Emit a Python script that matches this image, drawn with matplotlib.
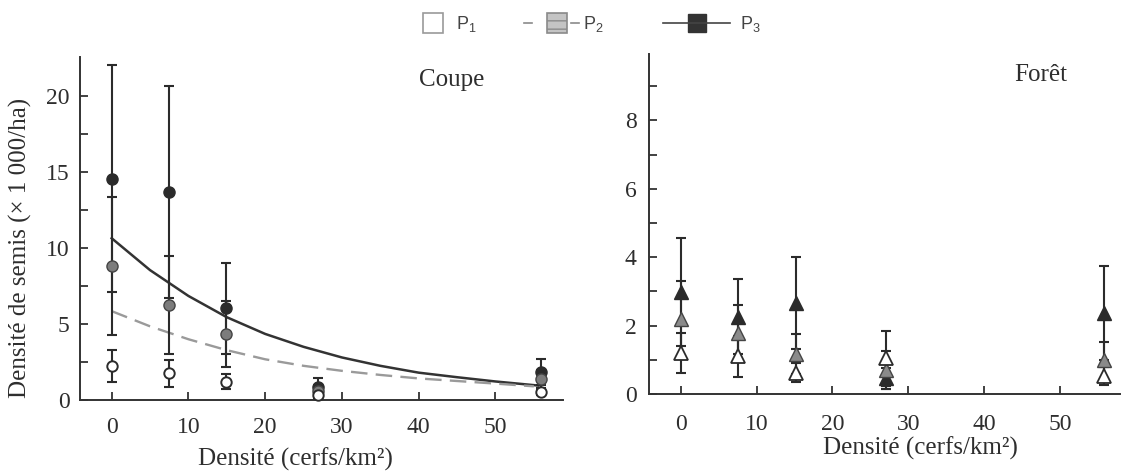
import matplotlib
matplotlib.use("Agg")
import matplotlib.pyplot as plt
from matplotlib.lines import Line2D
from matplotlib.patches import Rectangle

plt.rcParams["mathtext.fontset"] = "custom"
plt.rcParams["mathtext.rm"] = "Liberation Sans"
plt.rcParams["mathtext.it"] = "Liberation Sans:italic"
plt.rcParams["mathtext.bf"] = "Liberation Sans:bold"

# ---------------- data ----------------
# Coupe (left panel)
coupe_x = [0, 7.45, 14.9, 26.9, 55.9]
coupe_p1 = [2.24, 1.75, 1.2, 0.3, 0.55]
coupe_p1_err = [1.08, 0.9, 0.5, 0.2, 0.2]
coupe_p2 = [8.8, 6.25, 4.34, 0.6, 1.4]
coupe_p2_err = [4.55, 3.25, 2.15, 0.4, 0.6]
coupe_p3 = [14.58, 13.7, 6.03, 0.85, 1.85]
coupe_p3_err = [7.5, 7.0, 3.0, 0.6, 0.85]

# fitted curves
curve_x = [0, 5, 10, 15, 20, 25, 30, 35, 40, 45, 50, 55.6]
curve_p3 = [10.65, 8.55, 6.85, 5.45, 4.35, 3.5, 2.8, 2.25, 1.8, 1.5, 1.22, 0.95]
curve_p2 = [5.85, 4.85, 4.0, 3.28, 2.68, 2.25, 1.92, 1.65, 1.42, 1.25, 1.08, 0.9]

# Foret (right panel)
foret_x = [0, 7.55, 15.2, 27.0, 55.8]
foret_p1 = [1.19, 1.11, 0.62, 1.04, 0.53]
foret_p1_err = [0.58, 0.6, 0.28, 0.8, 0.27]
foret_p2 = [2.18, 1.77, 1.17, 0.7, 0.99]
foret_p2_err = [1.12, 0.83, 0.58, 0.56, 0.54]
foret_p3 = [2.99, 2.26, 2.67, 0.46, 2.36]
foret_p3_err = [1.58, 1.1, 1.34, 0.3, 1.38]

coupe_yticks = [0, 5, 10, 15, 20]
foret_yticks = [0, 2, 4, 6, 8]
xticks = [0, 10, 20, 30, 40, 50]

# ---------------- style ----------------
SERIF = ["Liberation Serif", "DejaVu Serif"]
SANS = ["Liberation Sans", "DejaVu Sans"]
DARK = "#2b2b2b"
MID = "#7c7c7c"
TXT = "#2e2e2e"
FS_TICK = 17
FS_LAB = 18

fig = plt.figure(figsize=(11.21, 4.73), dpi=100)
W, H = 1121, 473

def px_axes(l, r, t, b):
    return fig.add_axes([l / W, (H - b) / H, (r - l) / W, (b - t) / H])

axL = px_axes(79.5, 563, 56.7, 400)
axR = px_axes(649.3, 1120, 54.3, 394)

def style(ax, xlim, ylim, yticks, yminor, ypad, xpad):
    ax.set_xlim(*xlim)
    ax.set_ylim(*ylim)
    for s in ["top", "right"]:
        ax.spines[s].set_visible(False)
    for s in ["left", "bottom"]:
        ax.spines[s].set_linewidth(1.4)
        ax.spines[s].set_color("#333333")
    ax.set_xticks(xticks)
    ax.set_yticks(yticks)
    ax.set_yticks(yminor, minor=True)
    ax.tick_params(axis="both", which="both", direction="in", width=1.3,
                   color="#333333", labelcolor=TXT)
    ax.tick_params(axis="both", which="major", length=6)
    ax.tick_params(axis="y", which="minor", length=6)
    ax.tick_params(axis="y", which="major", pad=ypad)
    ax.tick_params(axis="x", which="major", pad=xpad)
    for lab in ax.get_xticklabels() + ax.get_yticklabels():
        lab.set_fontfamily(SERIF)
        lab.set_fontsize(FS_TICK)
    ax.patch.set_alpha(0)

style(axL, (-4.19, 58.8), (0, 22.6), coupe_yticks, [2.5, 7.5, 12.5, 17.5], 7, 12)
style(axR, (-4.13, 57.9), (0, 9.93), foret_yticks, [1, 3, 5, 7, 9], 9, 14.5)

eb_kw = dict(fmt="none", ecolor=DARK, elinewidth=1.5, capsize=3.4, capthick=1.5,
             clip_on=False)

# ---- left: Coupe ----
axL.plot(curve_x, curve_p3, color="#333333", lw=1.8, zorder=2)
axL.plot(curve_x[:-1] + [55.0], curve_p2, color="#9a9a9a",
         lw=1.7, dashes=(7, 3.5), zorder=2)
for y, e in [(coupe_p3, coupe_p3_err), (coupe_p2, coupe_p2_err), (coupe_p1, coupe_p1_err)]:
    axL.errorbar(coupe_x, y, yerr=e, zorder=3, **eb_kw)
axL.plot(coupe_x, coupe_p3, "o", ms=8, mfc=DARK, mec=DARK, mew=1, ls="none",
         zorder=4, clip_on=False)
axL.plot(coupe_x, coupe_p2, "o", ms=8, mfc=MID, mec="#444444", mew=1, ls="none",
         zorder=5, clip_on=False)
axL.plot(coupe_x, coupe_p1, "o", ms=7.5, mfc="white", mec=DARK, mew=1.4, ls="none",
         zorder=6, clip_on=False)
axL.text(44.3, 21.05, "Coupe", ha="center", va="center", fontsize=FS_LAB,
         family=SERIF, color=TXT)
axL.set_ylabel("Densité de semis (× 1 000/ha)", fontsize=FS_LAB, family=SERIF,
               color=TXT)
axL.yaxis.set_label_coords(-0.098, 0.443)
axL.set_xlabel("Densité (cerfs/km²)", fontsize=FS_LAB, family=SERIF, color=TXT)
axL.xaxis.set_label_coords(0.446, -0.138)

# ---- right: Foret ----
for y, e in [(foret_p3, foret_p3_err), (foret_p2, foret_p2_err), (foret_p1, foret_p1_err)]:
    axR.errorbar(foret_x, y, yerr=e, zorder=3, **eb_kw)
axR.plot(foret_x, foret_p3, "^", ms=9.5, mfc=DARK, mec=DARK, mew=1, ls="none",
         zorder=4, clip_on=False)
axR.plot(foret_x, foret_p2, "^", ms=9.5, mfc="#8a8a8a", mec="#444444", mew=1, ls="none",
         zorder=5, clip_on=False)
axR.plot(foret_x, foret_p1, "^", ms=9.5, mfc="white", mec=DARK, mew=1.3, ls="none",
         zorder=6, clip_on=False)
axR.text(47.5, 9.33, "Forêt", ha="center", va="center", fontsize=FS_LAB,
         family=SERIF, color=TXT)
axR.set_xlabel("Densité (cerfs/km²)", fontsize=FS_LAB, family=SERIF, color=TXT)
axR.xaxis.set_label_coords(0.575, -0.125)

# ---- legend (drawn at figure level) ----
def fx(x):
    return x / W

def fy(y):
    return (H - y) / H

yc = 23
leg_txt = dict(fontsize=13, family=SANS, color="#444444", va="center", ha="left")
# P1
fig.add_artist(Rectangle((fx(423), fy(33)), 20 / W, 20 / H, transform=fig.transFigure,
                         facecolor="white", edgecolor="#9a9a9a", lw=1.2))
fig.text(fx(456), fy(yc + 1), r"P$_\mathrm{1}$", **leg_txt)
# P2
fig.add_artist(Line2D([fx(524), fx(532)], [fy(yc), fy(yc)], transform=fig.transFigure,
                      color="#8a8a8a", lw=1.2))
fig.add_artist(Line2D([fx(571), fx(579)], [fy(yc), fy(yc)], transform=fig.transFigure,
                      color="#8a8a8a", lw=1.2))
fig.add_artist(Rectangle((fx(547), fy(33)), 20 / W, 20 / H, transform=fig.transFigure,
                         facecolor="#c4c4c4", edgecolor="#8a8a8a", lw=1.2,
                         hatch="--"))
fig.text(fx(583), fy(yc + 1), r"P$_\mathrm{2}$", **leg_txt)
# P3
fig.add_artist(Line2D([fx(663), fx(730)], [fy(yc), fy(yc)], transform=fig.transFigure,
                      color="#444444", lw=1.2))
fig.add_artist(Rectangle((fx(688), fy(32)), 18 / W, 18 / H, transform=fig.transFigure,
                         facecolor="#333333", edgecolor="#333333", lw=1))
fig.text(fx(740), fy(yc + 1), r"P$_\mathrm{3}$", **leg_txt)

fig.savefig("out.png", dpi=100, facecolor="white")
